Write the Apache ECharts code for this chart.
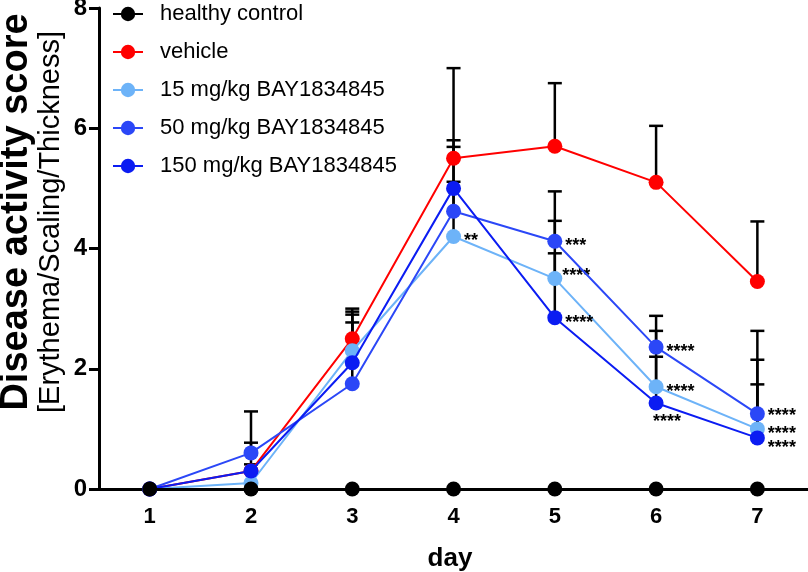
<!DOCTYPE html>
<html><head><meta charset="utf-8">
<script src="https://cdn.jsdelivr.net/npm/echarts@6/dist/echarts.min.js"></script>
<style>html,body{margin:0;padding:0;background:#fff}#c{width:808px;height:572px}</style>
</head><body><div id="c"></div>
<script>
const days=[1,2,3,4,5,6,7];
const seriesNames=['healthy control','vehicle','15 mg/kg BAY1834845','50 mg/kg BAY1834845','150 mg/kg BAY1834845'];
const healthy=[0,0,0,0,0,0,0];
const vehicle=[0,0.3,2.5,5.5,5.7,5.1,3.45];
const dose15=[0,0.1,2.3,4.2,3.5,1.7,1.0];
const dose50=[0,0.6,1.75,4.62,4.12,2.36,1.25];
const dose150=[0,0.3,2.1,5.0,2.85,1.43,0.85];
const errHealthy=[null,null,null,null,null,null,null];
const errVehicle=[null,0.77,3.0,7.0,6.75,6.04,4.45];
const err15=[null,0.41,2.95,5.11,4.46,2.63,2.15];
const err50=[null,1.29,2.77,5.69,4.95,2.88,2.63];
const err150=[null,null,2.9,5.8,3.92,2.2,1.74];
const sigHealthy=['','','','','','',''];
const sigVehicle=['','','','','','',''];
const sig15=['','','','**','****','****','****'];
const sig50=['','','','','***','****','****'];
const sig150=['','','','','****','****','****'];
const yTicks=[0,2,4,6,8];

const FONT="'Liberation Sans', Arial, sans-serif";
const colors=['#000000','#ff0000','#6db3f8','#2b47f7','#0b1cf2'];
const values=[healthy,vehicle,dose15,dose50,dose150];
const errs=[errHealthy,errVehicle,err15,err50,err150];
const sigs=[sigHealthy,sigVehicle,sig15,sig50,sig150];
// per-label placement tweaks (series index -> day index -> label override)
const labelTweaks={2:{4:{offset:[-3,-3]}},3:{6:{offset:[0,2]}},4:{5:{position:'bottom',offset:[11,0]},6:{offset:[0,10]}}};

const errData=[];
errs.forEach(function(arr,si){arr.forEach(function(t,i){if(t!==null)errData.push([days[i],values[si][i],t]);});});

const series=[{
  name:'errors',type:'custom',z:1,silent:true,
  data:errData,encode:{x:0,y:[1,2]},
  renderItem:function(params,api){
    const x=api.value(0),y=api.value(1),t=api.value(2);
    const p0=api.coord([x,y]),p1=api.coord([x,t]);const hw=7;
    return {type:'group',children:[
      {type:'line',shape:{x1:p0[0],y1:p0[1],x2:p1[0],y2:p1[1]},style:{stroke:'#000',lineWidth:2.5}},
      {type:'line',shape:{x1:p1[0]-hw,y1:p1[1],x2:p1[0]+hw,y2:p1[1]},style:{stroke:'#000',lineWidth:2.5}}
    ]};
  }
}];
values.forEach(function(arr,si){
  series.push({
    name:seriesNames[si],type:'line',z:si===0?6:3+si*0.1,
    symbol:'circle',symbolSize:15,
    itemStyle:{color:colors[si]},lineStyle:{color:colors[si],width:2},
    data:arr.map(function(v,i){
      const d={value:[days[i],v]};
      if(sigs[si][i]){
        d.label=Object.assign({show:true,position:'right',distance:3,offset:[0,5],formatter:sigs[si][i],
          fontSize:18,fontWeight:'bold',color:'#000',fontFamily:FONT},(labelTweaks[si]||{})[i]||{});
      }
      return d;
    })
  });
});

const chart=echarts.init(document.getElementById('c'),null,{renderer:'canvas'});
chart.setOption({
  animation:false,
  textStyle:{fontFamily:FONT},
  grid:{left:92,right:0,top:8,bottom:83,containLabel:false,outerBoundsMode:'none'},
  legend:{data:seriesNames,orient:'vertical',left:107,top:-4,itemWidth:30,itemHeight:18,itemGap:12,
    textStyle:{fontSize:22,color:'#000',lineHeight:26,fontFamily:FONT,padding:[0,0,0,12]}},
  xAxis:{type:'value',min:0.43,max:7.5,
    name:'day',nameLocation:'middle',nameGap:57,
    nameTextStyle:{fontSize:26,fontWeight:'bold',color:'#000',fontFamily:FONT},
    axisLine:{onZero:false,lineStyle:{color:'#000',width:3}},
    axisTick:{show:false},splitLine:{show:false},
    axisLabel:{customValues:days,fontSize:22,fontWeight:'bold',color:'#000',margin:17,fontFamily:FONT}},
  yAxis:{type:'value',min:yTicks[0],max:yTicks[yTicks.length-1],interval:2,offset:-7,
    axisLine:{show:true,lineStyle:{color:'#000',width:3}},
    axisTick:{show:true,length:10,lineStyle:{color:'#000',width:3}},
    splitLine:{show:false},
    axisLabel:{fontSize:24,fontWeight:'bold',color:'#000',margin:12,fontFamily:FONT}},
  graphic:[
    {type:'text',x:17,y:212,rotation:Math.PI/2,style:{text:'Disease activity score',font:"bold 38px "+FONT,fill:'#000',align:'center',verticalAlign:'middle'}},
    {type:'text',x:51,y:222,rotation:Math.PI/2,style:{text:'[Erythema/Scaling/Thickness]',font:"29px "+FONT,fill:'#000',align:'center',verticalAlign:'middle'}}
  ],
  series:series
});
</script></body></html>
